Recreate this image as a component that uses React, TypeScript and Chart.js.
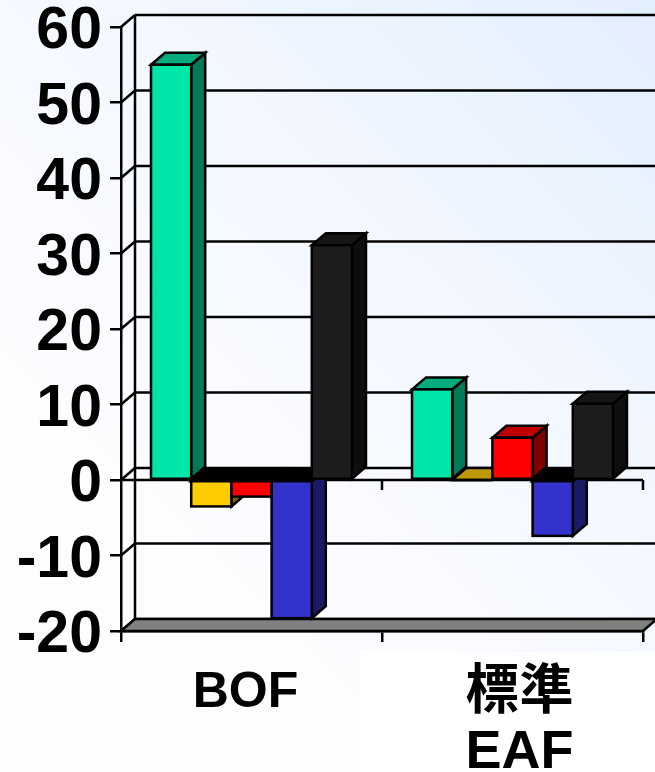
import React, { useEffect, useRef } from "react";
import { Chart, registerables } from "chart.js";

Chart.register(...registerables);

const categories: (string | string[])[] = ["BOF", ["標準", "EAF"]];
const seriesA = [55, 12];
const seriesB = [-3.5, 0];
const seriesC = [-2.2, 5.6];
const seriesD = [-18.3, -7.4];
const seriesE = [31.1, 10.1];
const seriesNames = ["A", "B", "C", "D", "E"];
const frontColors = ["#00e6a8", "#ffcc00", "#ff0000", "#3333cc", "#1c1c1c"];
const sideColors = ["#007a59", "#806600", "#800000", "#1a1a66", "#0e0e0e"];
const topColors = ["#00ac7e", "#bf9900", "#bf0000", "#000000", "#151515"];
const labelShiftX = [-6, 7];
const labelShiftY = [3, 1];
const yLabelShift = 5;
const DX = 14;
const DY = -12;
const LINE = 2.5;
const FONT = '"Liberation Sans", "Noto Sans CJK TC", sans-serif';

const poly = (ctx: CanvasRenderingContext2D, pts: number[][], fill: string) => {
  ctx.beginPath();
  pts.forEach((p, i) => (i ? ctx.lineTo(p[0], p[1]) : ctx.moveTo(p[0], p[1])));
  ctx.closePath();
  ctx.fillStyle = fill;
  ctx.fill();
  ctx.stroke();
};
const seg = (ctx: CanvasRenderingContext2D, x1: number, y1: number, x2: number, y2: number) => {
  ctx.beginPath();
  ctx.moveTo(x1, y1);
  ctx.lineTo(x2, y2);
  ctx.stroke();
};

const barRect = (bar: any) => {
  const p = bar.getProps(["x", "y", "base", "width"], true);
  return {
    l: p.x - p.width / 2,
    r: p.x + p.width / 2,
    hi: Math.min(p.y, p.base),
    lo: Math.max(p.y, p.base),
    negative: p.y > p.base,
  };
};

const depthPlugin = {
  id: "depth",
  beforeDraw(chart: any) {
    const { ctx, width, height } = chart;
    const g = ctx.createLinearGradient(width, 0, 150, 520);
    g.addColorStop(0, "#e2efff");
    g.addColorStop(0.5, "#f3f7ff");
    g.addColorStop(1, "#fcfdff");
    ctx.save();
    ctx.fillStyle = g;
    ctx.fillRect(0, 0, width, height);
    ctx.fillStyle = "#ffffff";
    ctx.fillRect(360, 652, width - 360, height - 652);
    ctx.restore();
    chart.scales.x.getLabelItems().forEach((item: any, i: number) => {
      if (!item.__shifted) {
        item.options.translation[0] += labelShiftX[i] || 0;
        item.options.translation[1] += labelShiftY[i] || 0;
        item.__shifted = true;
      }
    });
    chart.scales.y.getLabelItems().forEach((item: any) => {
      if (!item.__shifted) {
        item.options.translation[1] += yLabelShift;
        item.__shifted = true;
      }
    });
  },
  beforeDatasetsDraw(chart: any) {
    const { ctx, chartArea, scales, width } = chart;
    const { left, right } = chartArea;
    const y = scales.y;
    const x = scales.x;
    const floor = y.getPixelForValue(y.min);
    const top = y.getPixelForValue(y.max);
    const zero = y.getPixelForValue(0);
    ctx.save();
    ctx.strokeStyle = "#000";
    ctx.lineWidth = LINE;
    seg(ctx, left + DX, top + DY, left + DX, floor + DY);
    y.ticks.forEach((t: any) => {
      const py = y.getPixelForValue(t.value);
      seg(ctx, left, py, left + DX, py + DY);
      seg(ctx, left + DX, py + DY, width + 2, py + DY);
    });
    poly(ctx, [[left, floor], [left + DX, floor + DY], [right + DX, floor + DY], [right, floor]], "#808080");
    seg(ctx, left, zero, right, zero);
    [(x.getPixelForValue(0) + x.getPixelForValue(1)) / 2, right].forEach((px: number) =>
      seg(ctx, px, zero, px, zero + 10)
    );
    chart.data.datasets.forEach((_: any, d: number) => {
      chart.getDatasetMeta(d).data.forEach((bar: any) => {
        const { l, r, hi, lo, negative } = barRect(bar);
        poly(ctx, [[r, hi], [r + DX, hi + DY], [r + DX, lo + DY], [r, lo]], sideColors[d]);
        poly(
          ctx,
          [[l, hi], [l + DX, hi + DY], [r + DX, hi + DY], [r, hi]],
          negative ? "#000000" : topColors[d]
        );
      });
    });
    ctx.restore();
  },
  afterDatasetsDraw(chart: any) {
    const { ctx } = chart;
    ctx.save();
    ctx.strokeStyle = "#000";
    ctx.lineWidth = LINE;
    chart.data.datasets.forEach((_: any, d: number) => {
      chart.getDatasetMeta(d).data.forEach((bar: any) => {
        const { l, r, hi, lo } = barRect(bar);
        ctx.strokeRect(l, hi, r - l, lo - hi);
      });
    });
    ctx.restore();
  },
};

export default function App() {
  const ref = useRef<HTMLCanvasElement>(null);
  useEffect(() => {
    const values = [seriesA, seriesB, seriesC, seriesD, seriesE];
    const chart = new Chart(ref.current!, {
      type: "bar",
      data: {
        labels: categories as any,
        datasets: values.map((data, i) => ({
          label: seriesNames[i],
          data,
          backgroundColor: frontColors[i],
          borderWidth: 0,
        })),
      },
      options: {
        responsive: false,
        animation: false,
        layout: { padding: { top: 27, right: 12, left: 0, bottom: 0 } },
        datasets: { bar: { categoryPercentage: 0.77, barPercentage: 1 } },
        plugins: { legend: { display: false }, tooltip: { enabled: false }, title: { display: false } },
        scales: {
          x: {
            afterFit: (s: any) => {
              s.height = 141;
              s.paddingLeft = 0;
              s.paddingRight = 0;
            },
            grid: { drawOnChartArea: false, color: "#000", lineWidth: LINE, tickLength: 11, offset: true },
            border: { color: "#000", width: LINE },
            ticks: {
              color: "#000",
              padding: 21,
              maxRotation: 0,
              autoSkip: false,
              font: (c: any) => ({
                family: FONT,
                size: c.index === 0 ? 50 : 54,
                weight: "bold",
                lineHeight: 1.1,
              }),
            },
          },
          y: {
            min: -20,
            max: 60,
            afterFit: (s: any) => {
              s.width = 121;
              s.paddingTop = 0;
              s.paddingBottom = 0;
            },
            grid: { drawOnChartArea: false, color: "#000", lineWidth: LINE, tickLength: 11 },
            border: { color: "#000", width: LINE },
            ticks: {
              stepSize: 10,
              color: "#000",
              padding: 8,
              font: { family: FONT, size: 59, weight: "bold" },
            },
          },
        },
      },
      plugins: [depthPlugin],
    } as any);
    return () => chart.destroy();
  }, []);
  return (
    <canvas
      ref={ref}
      width={655}
      height={772}
      style={{ position: "absolute", left: 0, top: 0, width: 655, height: 772, display: "block" }}
    />
  );
}
